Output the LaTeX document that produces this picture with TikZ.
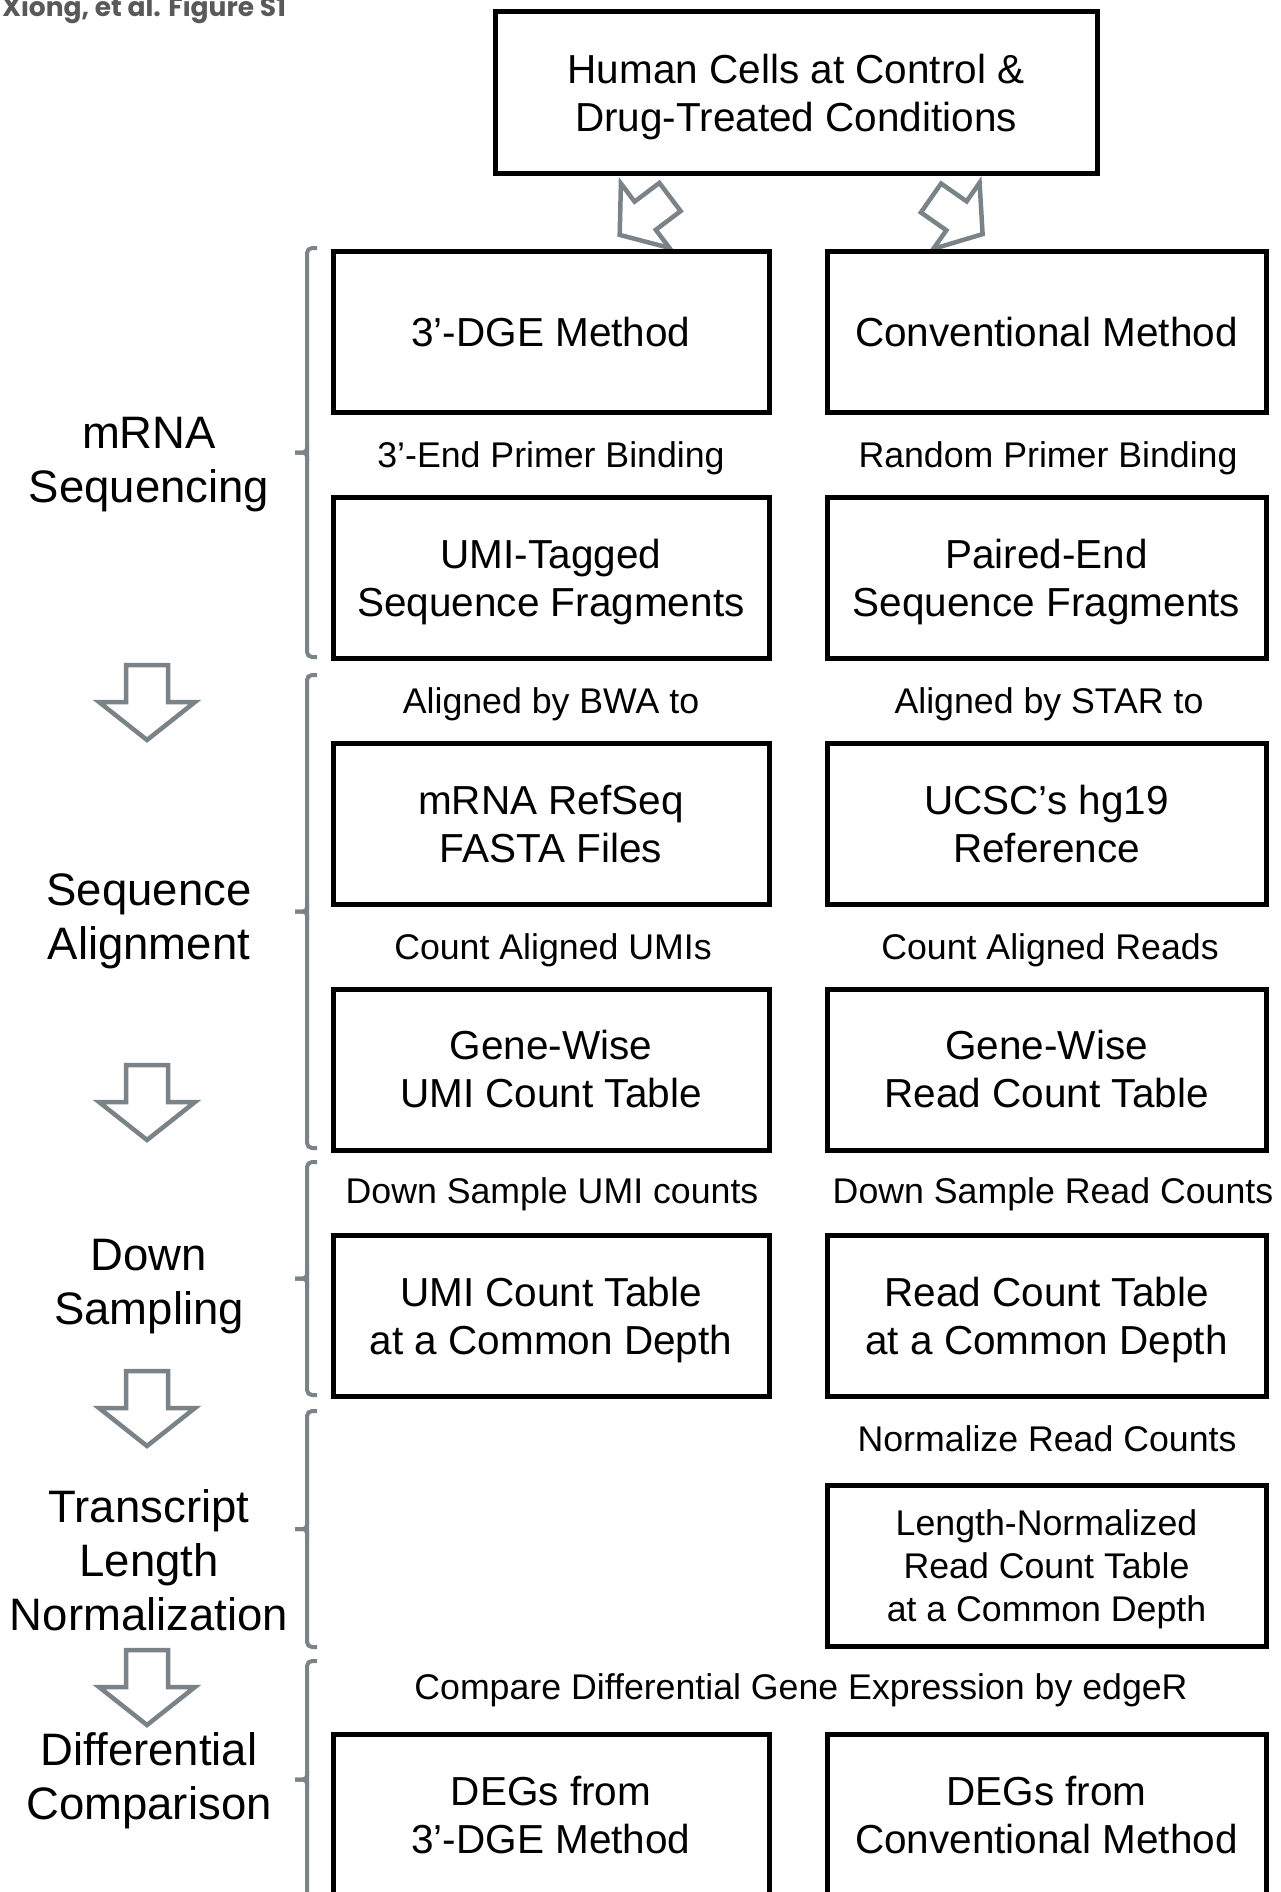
\documentclass[tikz,border=0pt]{standalone}
\usepackage{fontspec}
\setmainfont{Liberation Sans}
\newfontfamily\headfont{Poppins}
\usepackage{xcolor}
\usepackage{tikz}
\definecolor{brgray}{RGB}{122,131,135}
\definecolor{hdgray}{RGB}{89,89,89}

\begin{document}
\begin{tikzpicture}[
      x=1pt, y=-1pt,
      box/.style={draw,line width=5pt,align=center,inner sep=0pt,minimum height=161pt,font=\fontsize{40.5}{48}\selectfont},
      lbox/.style={box,minimum width=436pt},
      rbox/.style={box,minimum width=439pt},
      lab/.style={inner sep=0pt,text height=25.6pt,text depth=0pt,font=\fontsize{35.7}{43.4}\selectfont},
      stage/.style={align=center,inner sep=0pt,font=\fontsize{45.5}{54}\selectfont},
      brline/.style={draw=brgray,line width=4pt},
      hollow/.pic={\draw[brgray,line width=4.5pt,line join=miter]
          (-21,0) -- (21,0) -- (21,37) -- (48,37) -- (0,75) -- (-48,37) -- (-21,37) -- cycle;}
  ]
      \useasboundingbox (0,0) rectangle (1280,1892);

      % 제목
      \node[anchor=base west,inner sep=0pt,text=hdgray,font=\headfont\bfseries\fontsize{26.5}{30}\selectfont] (title) at (2,17) {Xiong, et al. Figure S1};

      % 상단 박스
      \node[box,minimum width=602pt] (cells) at (796,92.5) {Human Cells at Control \&\\\smash{Drug-Treated Conditions}};
      \pic[rotate=-53,scale=0.84] at (670,197) {hollow};
      \pic[rotate=55,scale=0.84] at (931,198) {hollow};

      % 박스 배치
      \node[lbox] (dgeM)  at (551,332) {3’-DGE Method};
      \node[rbox] (convM) at (1046.5,332) {Conventional Method};
      \node[lbox] (umiFrag) at (551,577.5) {UMI-Tagged\\\smash{Sequence Fragments}};
      \node[rbox] (peFrag)  at (1046.5,577.5) {Paired-End\\\smash{Sequence Fragments}};
      \node[lbox] (refseq) at (551,824) {mRNA RefSeq\\FASTA Files};
      \node[rbox] (hg19)   at (1046.5,824) {UCSC’s hg19\\Reference};
      \node[lbox] (umiTab)  at (551,1069.5) {Gene-Wise\\UMI Count Table};
      \node[rbox] (readTab) at (1046.5,1069.5) {Gene-Wise\\Read Count Table};
      \node[lbox] (umiDepth)  at (551,1316) {UMI Count Table\\\smash{at a Common Depth}};
      \node[rbox] (readDepth) at (1046.5,1316) {Read Count Table\\\smash{at a Common Depth}};
      \node[rbox,font=\fontsize{35.7}{43.4}\selectfont] (lenNorm) at (1046.5,1565.5) {Length-Normalized\\Read Count Table\\\smash{at a Common Depth}};
      \node[lbox] (degDge)  at (551,1815) {DEGs from\\3’-DGE Method};
      \node[rbox] (degConv) at (1046.5,1815) {DEGs from\\Conventional Method};

      % 단계 사이 문구
      \node[lab] (lPrimL) at (551,455) {3’-End Primer Binding};
      \node[lab] (lPrimR) at (1048,455) {Random Primer Binding};
      \node[lab] (lAlnL) at (551,701) {Aligned by BWA to};
      \node[lab] (lAlnR) at (1049,701) {Aligned by STAR to};
      \node[lab] (lCntL) at (553,947) {Count Aligned UMIs};
      \node[lab] (lCntR) at (1050,947) {Count Aligned Reads};
      \node[lab] (lDownL) at (552,1191) {Down Sample UMI counts};
      \node[lab] (lDownR) at (1053,1191) {Down Sample Read Counts};
      \node[lab] (lNorm) at (1047,1439) {Normalize Read Counts};
      \node[lab] (lComp) at (801,1687) {Compare Differential Gene Expression by edgeR};

      % 왼쪽 단계
      \node[stage] (sSeq)  at (149,465) {mRNA\\Sequencing};
      \node[stage] (sAln)  at (149,921) {Sequence\\Alignment};
      \node[stage] (sDown) at (149,1287) {Down\\Sampling};
      \node[stage] (sNorm) at (149,1560) {Transcript\\Length\\Normalization};
      \node[stage] (sComp) at (149,1781) {Differential\\Comparison};

      % 괄호와 화살표
      \foreach \t/\b in {248/657, 675/1148, 1162/1395, 1411/1647, 1661/1898} {
          \pgfmathsetmacro\m{(\t+\b)/2}
          \draw[brline,rounded corners=5pt] (317,\t) -- (307,\t) -- (307,\b) -- (317,\b);
          \draw[brline,rounded corners=4pt] (307,\m-9) -- (307,\m) -- (295,\m);
          \draw[brline,rounded corners=4pt] (307,\m+9) -- (307,\m) -- (295,\m);
      }
      \foreach \yy in {665,1065,1371,1650}
          \pic at (147,\yy) {hollow};
  \end{tikzpicture}
\end{document}
